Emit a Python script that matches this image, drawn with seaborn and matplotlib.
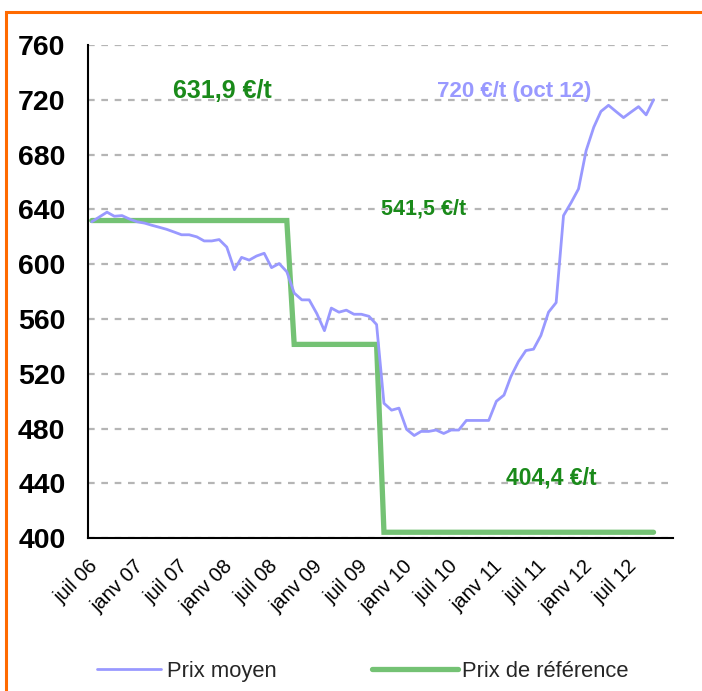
import numpy as np
import pandas as pd
import matplotlib
matplotlib.use("Agg")
import matplotlib.pyplot as plt
from matplotlib.lines import Line2D
from matplotlib.patches import Rectangle
import seaborn as sns

# ---- data ----
start_month = "2006-07-01"
prix_moyen = [631, 634.5, 638, 635, 635.5, 633, 631, 630, 628.5, 627,
              625.5, 623.5, 621.5, 621.5, 620, 617, 617, 618, 612.5, 596,
              605, 603, 606, 608, 597.5, 600.5, 594.5, 579, 574, 574,
              564, 551.5, 568, 565, 566.5, 563.5, 563.5, 562, 556, 498.5,
              493.5, 495, 479.5, 475, 478, 478, 479, 476.5, 479, 479,
              486, 486, 486, 486, 500, 504.5, 518, 529, 537, 538,
              548, 565, 572, 635.5, 645, 655, 683, 700, 711.5, 716,
              711.5, 707, 711, 715, 709, 720]
prix_reference = [631.9] * 27 + [541.5] * 12 + [404.4] * 37
tick_labels = ["juil 06", "janv 07", "juil 07", "janv 08", "juil 08", "janv 09",
               "juil 09", "janv 10", "juil 10", "janv 11", "juil 11", "janv 12",
               "juil 12"]
y_ticks = [400, 440, 480, 520, 560, 600, 640, 680, 720, 760]
annotations = ["631,9 €/t", "720 €/t (oct 12)", "541,5 €/t", "404,4 €/t"]
series_names = ["Prix moyen", "Prix de référence"]

# ---- build table ----
dates = pd.date_range(start_month, periods=len(prix_moyen), freq="MS") + pd.Timedelta(days=14)
df = pd.DataFrame({"date": dates, "moyen": prix_moyen, "ref": prix_reference})

sns.set_style("white")
plt.rcParams["font.family"] = ["Liberation Sans", "DejaVu Sans"]

BLUE = "#9999ff"
GREEN = "#74c274"
DKGREEN = "#1a8a1a"

fig = plt.figure(figsize=(7.02, 6.91), dpi=100)
ax = fig.add_axes([0.1258, 0.2210, 0.8325, 0.7139])

sns.lineplot(data=df, x="date", y="ref", ax=ax, color=GREEN, linewidth=3.8,
             solid_joinstyle="miter", zorder=2)
sns.lineplot(data=df, x="date", y="moyen", ax=ax, color=BLUE, linewidth=2,
             zorder=3)

ax.set_xlim(pd.Timestamp("2006-07-01"), pd.Timestamp("2013-01-01"))
ax.set_ylim(400, 760)

tick_dates = pd.date_range("2006-07-01", "2013-01-01", freq="6MS")
ax.set_xticks(tick_dates)
ax.set_xticklabels(tick_labels + [""], rotation=45, ha="right",
                   rotation_mode="anchor", fontsize=14.5)
ax.set_yticks(y_ticks)
ax.set_yticklabels([str(v) for v in y_ticks], fontsize=20.5, fontweight="bold")
ax.tick_params(axis="x", direction="out", length=8, width=1.5, pad=5, colors="black")
ax.tick_params(axis="y", direction="out", length=7, width=1.5, pad=9.5, colors="black")
ax.set_xlabel("")
ax.set_ylabel("")

for s in ["top", "right"]:
    ax.spines[s].set_visible(False)
for s in ["left", "bottom"]:
    ax.spines[s].set_color("black")
    ax.spines[s].set_linewidth(1.5)

ax.yaxis.grid(True, color="#b5b5b5", linestyle=(0, (3, 3)), linewidth=1.6)
ax.xaxis.grid(False)
ax.set_axisbelow(True)

# annotations
styles = [((0.229, 0.907), 18, DKGREEN), ((0.728, 0.905), 16, BLUE),
          ((0.573, 0.668), 15.5, DKGREEN), ((0.793, 0.123), 16.5, DKGREEN)]
for txt, ((px, py), fs, c) in zip(annotations, styles):
    ax.text(px, py, txt, transform=ax.transAxes, ha="center", va="center",
            fontsize=fs, fontweight="bold", color=c)

# legend (two entries, different handle lengths)
fig.legend([Line2D([], [], color=BLUE, linewidth=2)], [series_names[0]],
           loc="center left", bbox_to_anchor=(97 / 702, 0.028),
           frameon=False, fontsize=15.8, handlelength=2.9,
           handletextpad=0.27, borderaxespad=0, borderpad=0)
fig.legend([Line2D([], [], color=GREEN, linewidth=3.8)], [series_names[1]],
           loc="center left", bbox_to_anchor=(372 / 702, 0.028),
           frameon=False, fontsize=15.8, handlelength=3.9,
           handletextpad=0.2, borderaxespad=0, borderpad=0)

# orange frame
fig.patches.append(Rectangle((6 / 702, -0.05), 1.1, 1 - 12 / 691 + 0.05,
                             transform=fig.transFigure, fill=False,
                             edgecolor="#ff6a00", linewidth=2.2, zorder=10))

fig.savefig("out.png", dpi=100)
